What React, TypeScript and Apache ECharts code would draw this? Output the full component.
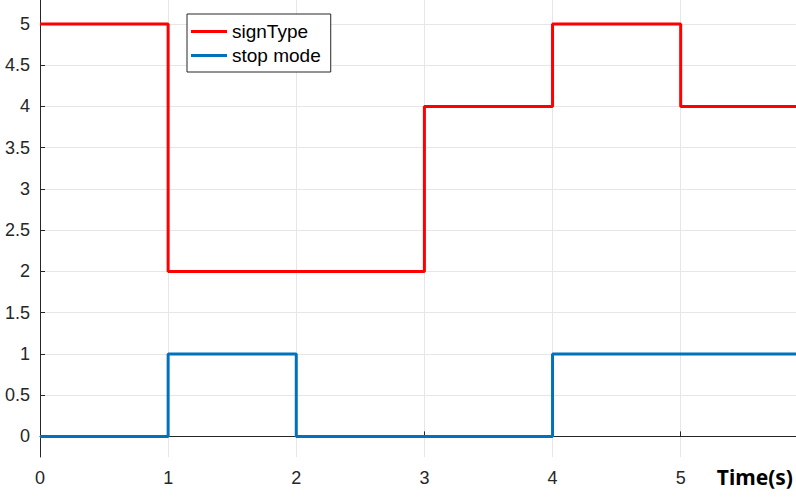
import React, { useEffect, useRef } from "react";
import * as echarts from "echarts";

const signTypeData: [number, number][] = [[0, 5], [1, 2], [3, 4], [4, 5], [5, 4], [6, 4]];
const stopModeData: [number, number][] = [[0, 0], [1, 1], [2, 0], [4, 1], [6, 1]];
const yTicks = [0, 0.5, 1, 1.5, 2, 2.5, 3, 3.5, 4, 4.5, 5];
const seriesNames = ["signType", "stop mode"];
const xAxisTitle = "Time(s)";

export default function App() {
  const ref = useRef<HTMLDivElement>(null);
  useEffect(() => {
    const chart = echarts.init(ref.current!, null, { renderer: "svg" });
    const font = "'Liberation Sans', Arial, sans-serif";
    chart.setOption({
      animation: false,
      backgroundColor: "#ffffff",
      grid: { left: 40, right: 0, top: 0, bottom: 43, containLabel: false },
      legend: {
        orient: "vertical",
        left: 187,
        top: 14,
        padding: [8, 10, 7, 4],
        backgroundColor: "#ffffff",
        borderColor: "#262626",
        borderWidth: 1,
        borderRadius: 0,
        itemWidth: 36,
        itemHeight: 3,
        itemGap: 5,
        icon: "rect",
        textStyle: { fontFamily: font, fontSize: 19, color: "#000" },
        data: seriesNames,
      },
      graphic: [
        {
          type: "text",
          x: 793,
          y: 477,
          style: {
            text: xAxisTitle,
            fontFamily: "'Noto Sans', sans-serif",
            fontWeight: "bold",
            fontSize: 21,
            fill: "#000",
            align: "right",
            verticalAlign: "middle",
          },
        },
      ],
      xAxis: {
        type: "value",
        min: 0,
        max: 5.9,
        interval: 1,
        axisLine: { show: true, lineStyle: { color: "#262626", width: 1 } },
        axisTick: { show: true, inside: true, length: 5, lineStyle: { color: "#262626" } },
        axisLabel: { fontFamily: font, fontSize: 18, color: "#262626", margin: 12, showMaxLabel: false },
        splitLine: { show: true, lineStyle: { color: "#e6e6e6", width: 1 } },
      },
      yAxis: {
        type: "value",
        min: -0.25,
        max: 5.29,
        axisLine: { show: true, lineStyle: { color: "#262626", width: 1 } },
        axisTick: { show: true, inside: true, length: 5, lineStyle: { color: "#262626" }, customValues: yTicks },
        axisLabel: { fontFamily: font, fontSize: 18, color: "#262626", margin: 10, customValues: yTicks },
        splitLine: { show: true, lineStyle: { color: "#e6e6e6", width: 1 }, customValues: yTicks },
      },
      series: [
        {
          name: seriesNames[0],
          type: "line",
          step: "end",
          data: signTypeData,
          symbol: "none",
          lineStyle: { color: "#ff0000", width: 3 },
          itemStyle: { color: "#ff0000" },
          clip: true,
        },
        {
          name: seriesNames[1],
          type: "line",
          step: "end",
          data: stopModeData,
          symbol: "none",
          lineStyle: { color: "#0072bd", width: 3 },
          itemStyle: { color: "#0072bd" },
          clip: true,
        },
      ],
    });
    return () => chart.dispose();
  }, []);
  return <div ref={ref} style={{ position: "fixed", left: 0, top: 0, width: 796, height: 500 }} />;
}
